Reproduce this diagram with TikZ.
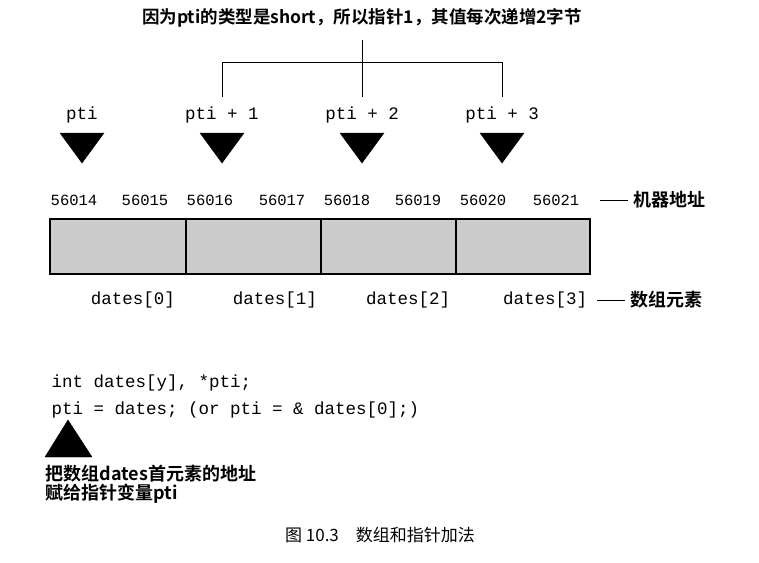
\documentclass[tikz,border=0pt]{standalone}
\usepackage{fontspec}
\setmonofont{Liberation Mono}
\newfontfamily\cjk{Noto Sans CJK SC}
\newfontfamily\cjkb{Noto Sans CJK SC Bold}
\begin{document}
\begin{tikzpicture}[x=1pt,y=-1pt,
  tri/.style={fill=black,draw=black},
  lbl/.style={font=\ttfamily\fontsize{17.5}{17.5}\selectfont},
  addr/.style={font=\ttfamily\fontsize{15.5}{15.5}\selectfont},
  cjkl/.style={font=\cjkb\fontsize{18}{18}\selectfont},
  ln/.style={draw=black,line width=0.8pt}]
\useasboundingbox (0,0) rectangle (759,562);
\node[font=\cjkb\fontsize{17.5}{17.5}\selectfont] (title) at (362,18) {因为pti的类型是short，所以指针1，其值每次递增2字节};
\coordinate (t0) at (362,40);
\coordinate (b1) at (222,62); \coordinate (b2) at (362,62); \coordinate (b3) at (502,62);
\coordinate (e1) at (222,97); \coordinate (e2) at (362,97); \coordinate (e3) at (502,97);
\draw[ln] (t0) -- (b2) (e1) -- (b1) -- (b3) -- (e3) (b2) -- (e2);
\foreach \x/\t [count=\i] in {82/pti,222/pti + 1,362/pti + 2,502/pti + 3}{
  \node[lbl] (p\i) at (\x,115) {\t};
  \fill[tri] (\x-22,133) -- (\x+22,133) -- (\x,163) -- cycle;
}
\foreach \x/\t in {74/56014,145/56015,210/56016,282/56017,347/56018,418/56019,483/56020,556/56021}
  \node[addr] at (\x,200) {\t};
\coordinate (m1) at (600,200); \coordinate (m2) at (628,200);
\draw[ln] (m1) -- (m2);
\node[cjkl,anchor=west] (mach) at (630,200) {机器地址};
\draw[line width=1.2pt,fill=gray!40] (50,219) rectangle (590,274);
\foreach \x in {186,321,456} \draw[line width=1.2pt] (\x,219) -- (\x,274);
\foreach \x/\t in {133/dates[0],275/dates[1],408/dates[2],545/dates[3]}
  \node[lbl] at (\x,300) {\t};
\coordinate (n1) at (597,300); \coordinate (n2) at (625,300);
\draw[ln] (n1) -- (n2);
\node[cjkl,anchor=west] (elem) at (627,300) {数组元素};
\node[lbl,anchor=west] (c1) at (48,383) {int dates[y], *pti;};
\node[lbl,anchor=west] (c2) at (48,410) {pti = dates; (or pti = \& dates[0];)};
\fill[tri] (68,420) -- (92,457) -- (45,457) -- cycle;
\node[cjkl,anchor=west] (d1) at (42,474) {把数组dates首元素的地址};
\node[cjkl,anchor=west] (d2) at (42,494) {赋给指针变量pti};
\node[font=\cjk\fontsize{17}{17}\selectfont] (cap) at (380,535) {图 10.3\quad 数组和指针加法};
\end{tikzpicture}
\end{document}
